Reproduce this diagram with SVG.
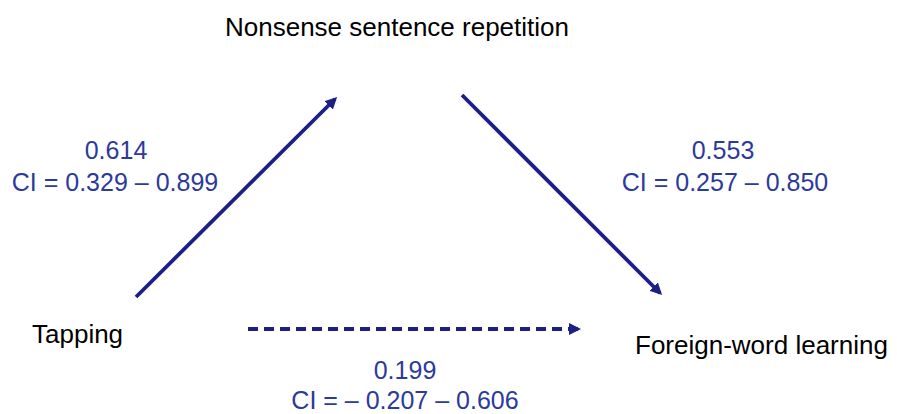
<svg xmlns="http://www.w3.org/2000/svg" width="897" height="414" viewBox="0 0 897 414">
<defs>
<marker id="ah" markerWidth="12" markerHeight="12" refX="9" refY="6" orient="auto" markerUnits="userSpaceOnUse">
<path d="M0,0 L12,6 L0,12 Z" fill="#1b1f86"/>
</marker>
<style>
.node{font-family:"Liberation Sans",Arial,sans-serif;font-size:26px;fill:#000;}
.lbl{font-family:"Liberation Sans",Arial,sans-serif;font-size:25px;fill:#2b3a9c;text-anchor:middle;}
.edge{stroke:#1b1f86;stroke-width:3.8;fill:none;}
</style>
</defs>
<rect width="897" height="414" fill="#fff"/>
<g id="n-nonsense"><text class="node" x="397" y="36" text-anchor="middle">Nonsense sentence repetition</text></g>
<g id="n-tapping"><text class="node" x="32" y="343">Tapping</text></g>
<g id="n-foreign"><text class="node" x="635" y="354">Foreign-word learning</text></g>
<g id="connectors">
<line class="edge" x1="136" y1="297" x2="335" y2="99" marker-end="url(#ah)"/>
<line class="edge" x1="462" y1="95" x2="660" y2="293" marker-end="url(#ah)"/>
<line class="edge" x1="248" y1="329" x2="578" y2="329" stroke-dasharray="10,6" marker-end="url(#ah)"/>
</g>
<g id="labels">
<text class="lbl" x="116" y="159">0.614</text>
<text class="lbl" x="115" y="191">CI = 0.329 – 0.899</text>
<text class="lbl" x="723" y="159">0.553</text>
<text class="lbl" x="725" y="191">CI = 0.257 – 0.850</text>
<text class="lbl" x="405" y="379">0.199</text>
<text class="lbl" x="405" y="409">CI = – 0.207 – 0.606</text>
</g>
</svg>
